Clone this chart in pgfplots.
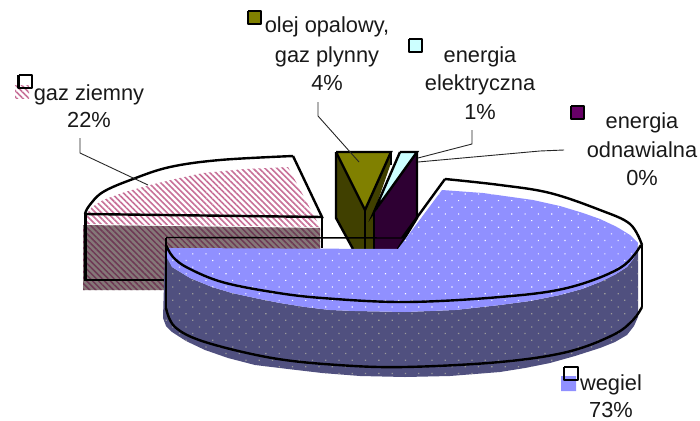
\documentclass[border=0pt]{standalone}
\usepackage{fontspec}
\setmainfont{Liberation Sans}
\usepackage{pgfplots}
\pgfplotsset{compat=1.18}
\usetikzlibrary{patterns.meta}
\definecolor{pinkhatch}{HTML}{C87098}
\definecolor{gasbase}{HTML}{857878}
\definecolor{gashatch}{HTML}{6E3A55}
\definecolor{blue1}{HTML}{9090FF}
\definecolor{blue2}{HTML}{50507F}
\definecolor{olive1}{HTML}{808000}
\definecolor{olive2}{HTML}{404000}
\definecolor{cyan1}{HTML}{CCFFFF}
\definecolor{purple1}{HTML}{660066}
\definecolor{purple2}{HTML}{2E0033}
\tikzset{
  hatchtop/.style={fill=white, draw=none, postaction={pattern={Lines[angle=-45,distance=4.2pt,line width=1.6pt]}, pattern color=pinkhatch}},
  hatchside/.style={fill=gasbase, draw=none, postaction={pattern={Lines[angle=-45,distance=4.2pt,line width=1.5pt]}, pattern color=gashatch}},
  dotstop/.style={fill=blue1, draw=none, postaction={pattern={Dots[radius=0.8pt,distance=9.4pt,angle=45]}, pattern color=white}},
  dotsside/.style={fill=blue2, draw=none, postaction={pattern={Dots[radius=0.9pt,distance=9.4pt,angle=45]}, pattern color=gray!80}},
  outline/.style={black, line width=2.4pt, line join=miter},
  curve/.style={black, line width=2.4pt, smooth, tension=0.6},
  thinl/.style={black!85, line width=0.9pt},
  key/.style={black, line width=2.2pt, line join=round},
  lab/.style={anchor=base, font=\fontsize{21.8}{25}\selectfont, text=black!90, inner sep=0pt},
}
\begin{document}
\begin{tikzpicture}
\path[use as bounding box] (0,0) rectangle (700pt,420pt);
\begin{axis}[
  at={(0,0)}, anchor=south west,
  scale only axis, width=700pt, height=420pt,
  xmin=0, xmax=700, ymin=0, ymax=420, y dir=reverse,
  hide axis, clip=false, no markers,
]
% gaz ziemny
\addplot[hatchtop] coordinates {(85,216) (92,207) (103,200) (125,192) (150,185) (175,179) (203,173) (245,169) (288,167) (320,227) (85,224) (85,216)};
\addplot[hatchside] coordinates {(83,225) (320,228) (320,252) (165,252) (165,290) (83,290) (83,225)};
\addplot[curve] coordinates {(85,214) (89,206) (103,192) (133,179) (170,167) (220,160) (293,156)};
\addplot[outline] coordinates {(293,156) (322,217) (85,214)};
\addplot[outline] coordinates {(85.5,214) (85.5,280) (165,280)};
\addplot[black, line width=1.6pt] coordinates {(322,217) (322,248)};
% olej opalowy
\addplot[fill=olive2, draw=none] coordinates {(336,152) (336,218) (353,249) (374,249) (374,212) (391,163) (391,152) (336,152)};
\addplot[fill=olive1, draw=none] coordinates {(337,153) (390,153) (365,210) (337,153)};
\addplot[outline] coordinates {(336,152) (391,152) (365,210) (336,152)};
\addplot[outline] coordinates {(336,152) (336,218) (353,249)};
\addplot[outline] coordinates {(365,210) (365,249)};
\addplot[outline] coordinates {(391,152) (391,165)};
% energia elektryczna i odnawialna
\addplot[fill=purple2, draw=none] coordinates {(417,152) (417,218) (398,249) (374,249) (374,212) (417,152)};
\addplot[fill=cyan1, draw=none] coordinates {(400,152) (417,152) (375,212) (400,152)};
\addplot[outline] coordinates {(400,152) (417,152) (374,212) (400,152)};
\addplot[outline] coordinates {(417,152) (417,218) (398,249)};
\addplot[outline] coordinates {(374,212) (374,249)};
\addplot[black, line width=1.4pt] coordinates {(166,237.5) (402,238)};
% wegiel, bok
\addplot[dotsside] coordinates {(165,250) (172,267) (190,278) (212,287) (232,293) (255,298) (280,303) (305,307) (330,310) (355,311) (405,312) (455,310) (500,305) (530,301) (560,295) (582,289) (600,282) (616,274) (627,267) (634,258) (638,245) (638,317) (634,326) (627,335) (615,342) (600,348) (575,356) (550,363) (525,368) (500,372) (450,376) (405,377) (360,376) (322,373) (288,369) (255,365) (228,358) (205,350) (186,341) (172,332) (166,326) (163,318) (165,250)};
% wegiel, wierzch
\addplot[dotstop] coordinates {(165,248) (398,249) (442,190) (483,193) (533,200) (560,206) (583,213) (600,219) (617,227) (630,235) (638,243) (637,250) (634,258) (627,267) (616,274) (600,282) (582,289) (560,295) (530,301) (500,305) (455,310) (405,312) (355,311) (330,310) (305,307) (280,303) (255,298) (232,293) (212,287) (190,278) (172,267) (167,258) (165,250) (165,248)};
\addplot[black, line width=2.4pt] coordinates {(166,237.5) (166,245)};
\addplot[curve] coordinates {(166,245) (173,257) (188,268) (222,282) (272,292) (322,298) (405,302) (500,297) (567,288) (620,268) (641,245)};
\addplot[outline] coordinates {(402,238) (445,179)};
\addplot[curve] coordinates {(445,179) (500,185) (550,193) (600,210) (630,224) (642,245)};
\addplot[black, line width=2.4pt] coordinates {(642,245) (642,307)};
\addplot[curve] coordinates {(642,307) (633,320) (613,335) (567,352) (500,362) (405,367) (338,365) (272,358) (205,342) (175,327) (166,308)};
\addplot[black, line width=2.4pt] coordinates {(166,308) (166,245)};
% linie odniesienia
\addplot[thinl] coordinates {(80,138) (80,153) (148,185)};
\addplot[thinl] coordinates {(318,102) (318,116) (359,162)};
\addplot[thinl] coordinates {(472,130) (472,144) (418,158)};
\addplot[thinl] coordinates {(564,150) (540,151) (418,162)};
% klucze legendy
\addplot[hatchtop] coordinates {(15,85) (29,85) (29,98) (15,98) (15,85)};
\addplot[key] coordinates {(18.5,75) (32,75) (32,88) (18.5,88) (18.5,75)};
\addplot[key, fill=olive1] coordinates {(248,11) (261,11) (261,24) (248,24) (248,11)};
\addplot[key, fill=cyan1] coordinates {(409,39) (422,39) (422,52) (409,52) (409,39)};
\addplot[key, fill=purple1] coordinates {(571,106) (584,106) (584,119) (571,119) (571,106)};
\addplot[fill=blue1, draw=none] coordinates {(561,376) (576,376) (576,391) (561,391) (561,376)};
\addplot[key] coordinates {(564,367) (578,367) (578,380) (564,380) (564,367)};
% opisy
\node[lab] at (axis cs:327,33) {olej opalowy,};
\node[lab] at (axis cs:327,63) {gaz plynny};
\node[lab] at (axis cs:327,90) {4\%};
\node[lab] at (axis cs:480,63) {energia};
\node[lab] at (axis cs:480,90) {elektryczna};
\node[lab] at (axis cs:480,119) {1\%};
\node[lab] at (axis cs:642,128) {energia};
\node[lab] at (axis cs:642,157) {odnawialna};
\node[lab] at (axis cs:642,185) {0\%};
\node[lab] at (axis cs:89,100) {gaz ziemny};
\node[lab] at (axis cs:89,127) {22\%};
\node[lab] at (axis cs:611,390) {wegiel};
\node[lab] at (axis cs:611,417) {73\%};
\end{axis}
\end{tikzpicture}
\end{document}
